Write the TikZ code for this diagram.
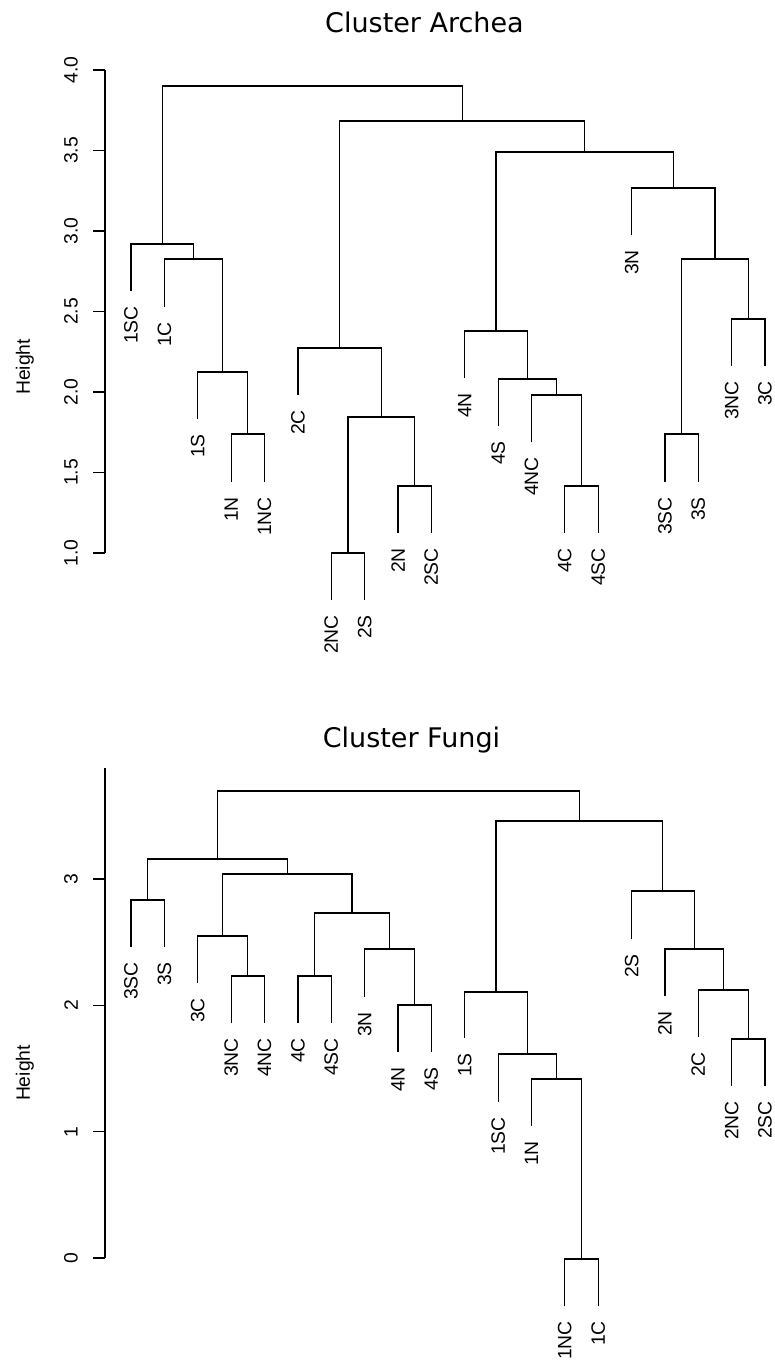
\documentclass[tikz,border=0pt]{standalone}
\usepackage{fontspec}
\newfontfamily\arialf{Liberation Sans}
\newfontfamily\verdf{DejaVu Sans}
\usetikzlibrary{calc}
\tikzset{
  dendro/.style={line width=0.9pt, black},
  leaflab/.style={rotate=90, anchor=east, inner sep=0pt, font=\arialf\fontsize{14.5}{16}\selectfont},
  ticklab/.style={rotate=90, anchor=center, inner sep=0pt, font=\arialf\fontsize{14.5}{16}\selectfont},
  ylab/.style={rotate=90, anchor=center, inner sep=0pt, font=\arialf\fontsize{14.5}{16}\selectfont},
  titlelab/.style={anchor=base, inner sep=0pt, font=\verdf\fontsize{20.25}{24}\selectfont}
}
\newcommand\dleaf[4]{%
  \coordinate (#1) at (#2,#3);
  \node[leaflab] (#1-l) at (#2,#3+15) {#4};}
\newcommand\dmerge[4]{%
  \coordinate (#1-m) at ($(#2)!0.5!(#3)$);
  \coordinate (#1-y) at (0,#4);
  \coordinate (#1) at (#1-m |- #1-y);
  \draw[dendro] (#2) |- (#1) -| (#3);}
\begin{document}
\begin{tikzpicture}[x=0.75pt, y=-0.75pt]
\useasboundingbox (0,0) rectangle (775,1365);

% ================= Archea =================
\node[titlelab] (titleA) at (424.5,32) {Cluster Archea};
\node[ylab] (ylabA) at (25,367) {Height};
\coordinate (axAtop) at (105,70);
\coordinate (axAbot) at (105,553);
\draw[dendro] (axAtop) -- (axAbot);
\foreach \v/\yy [count=\i] in {4.0/70,3.5/150.5,3.0/231,2.5/311.5,2.0/392,1.5/472.5,1.0/553}{
  \coordinate (tA\i) at (105,\yy);
  \draw[dendro] (tA\i) -- ++(-12,0);
  \node[ticklab] (tlA\i) at (71,\yy) {\v};
}

\dleaf{A1SC}{131.0}{291}{1SC}
\dleaf{A1C}{164.4}{307}{1C}
\dleaf{A1S}{197.7}{419}{1S}
\dleaf{A1N}{231.1}{482}{1N}
\dleaf{A1NC}{264.5}{482}{1NC}
\dleaf{A2C}{297.9}{395}{2C}
\dleaf{A2NC}{331.2}{600}{2NC}
\dleaf{A2S}{364.6}{600}{2S}
\dleaf{A2N}{398.0}{533}{2N}
\dleaf{A2SC}{431.3}{533}{2SC}
\dleaf{A4N}{464.7}{378}{4N}
\dleaf{A4S}{498.1}{426}{4S}
\dleaf{A4NC}{531.4}{442}{4NC}
\dleaf{A4C}{564.8}{533}{4C}
\dleaf{A4SC}{598.2}{533}{4SC}
\dleaf{A3N}{631.6}{235}{3N}
\dleaf{A3SC}{664.9}{482}{3SC}
\dleaf{A3S}{698.3}{482}{3S}
\dleaf{A3NC}{731.7}{366}{3NC}
\dleaf{A3C}{765.0}{366}{3C}

\dmerge{Aa1}{A1N}{A1NC}{434}
\dmerge{Aa2}{A1S}{Aa1}{372}
\dmerge{Aa3}{A1C}{Aa2}{259}
\dmerge{Aa4}{A1SC}{Aa3}{244}
\dmerge{Ab1}{A2NC}{A2S}{553}
\dmerge{Ab2}{A2N}{A2SC}{486}
\dmerge{Ab3}{Ab1}{Ab2}{417}
\dmerge{Ab4}{A2C}{Ab3}{348}
\dmerge{Ac1}{A4C}{A4SC}{486}
\dmerge{Ac2}{A4NC}{Ac1}{395}
\dmerge{Ac3}{A4S}{Ac2}{379}
\dmerge{Ac4}{A4N}{Ac3}{331}
\dmerge{Ad1}{A3SC}{A3S}{434}
\dmerge{Ad2}{A3NC}{A3C}{319}
\dmerge{Ad3}{Ad1}{Ad2}{259}
\dmerge{Ad4}{A3N}{Ad3}{188}
\dmerge{Ae1}{Ac4}{Ad4}{152}
\dmerge{Ae2}{Ab4}{Ae1}{121}
\dmerge{Aroot}{Aa4}{Ae2}{86}

% ================= Fungi =================
\node[titlelab] (titleF) at (411.5,747) {Cluster Fungi};
\node[ylab] (ylabF) at (25,1073) {Height};
\coordinate (axFtop) at (105,768);
\coordinate (axFbot) at (105,1258);
\draw[dendro] (axFtop) -- (axFbot);
\foreach \v/\yy [count=\i] in {3/879,2/1005.4,1/1131.7,0/1258}{
  \coordinate (tF\i) at (105,\yy);
  \draw[dendro] (tF\i) -- ++(-12,0);
  \node[ticklab] (tlF\i) at (71,\yy) {\v};
}

\dleaf{F3SC}{131.0}{947}{3SC}
\dleaf{F3S}{164.4}{947}{3S}
\dleaf{F3C}{197.7}{983}{3C}
\dleaf{F3NC}{231.1}{1023}{3NC}
\dleaf{F4NC}{264.5}{1023}{4NC}
\dleaf{F4C}{297.9}{1023}{4C}
\dleaf{F4SC}{331.2}{1023}{4SC}
\dleaf{F3N}{364.6}{997}{3N}
\dleaf{F4N}{398.0}{1052}{4N}
\dleaf{F4S}{431.3}{1052}{4S}
\dleaf{F1S}{464.7}{1038}{1S}
\dleaf{F1SC}{498.1}{1102}{1SC}
\dleaf{F1N}{531.4}{1126}{1N}
\dleaf{F1NC}{564.8}{1306}{1NC}
\dleaf{F1C}{598.2}{1306}{1C}
\dleaf{F2S}{631.6}{939}{2S}
\dleaf{F2N}{664.9}{996}{2N}
\dleaf{F2C}{698.3}{1037}{2C}
\dleaf{F2NC}{731.7}{1086}{2NC}
\dleaf{F2SC}{765.0}{1086}{2SC}

\dmerge{Ff1}{F3SC}{F3S}{900}
\dmerge{Ff2}{F3NC}{F4NC}{976}
\dmerge{Ff3}{F3C}{Ff2}{936}
\dmerge{Ff4}{F4C}{F4SC}{976}
\dmerge{Ff5}{F4N}{F4S}{1005}
\dmerge{Ff6}{F3N}{Ff5}{949}
\dmerge{Ff7}{Ff4}{Ff6}{913}
\dmerge{Ff8}{Ff3}{Ff7}{874}
\dmerge{Ff9}{Ff1}{Ff8}{859}
\dmerge{Fg1}{F1NC}{F1C}{1259}
\dmerge{Fg2}{F1N}{Fg1}{1079}
\dmerge{Fg3}{F1SC}{Fg2}{1054}
\dmerge{Fg4}{F1S}{Fg3}{992}
\dmerge{Fh1}{F2NC}{F2SC}{1039}
\dmerge{Fh2}{F2C}{Fh1}{990}
\dmerge{Fh3}{F2N}{Fh2}{949}
\dmerge{Fh4}{F2S}{Fh3}{891}
\dmerge{Fg5}{Fg4}{Fh4}{821}
\dmerge{Froot}{Ff9}{Fg5}{791}
\end{tikzpicture}
\end{document}
